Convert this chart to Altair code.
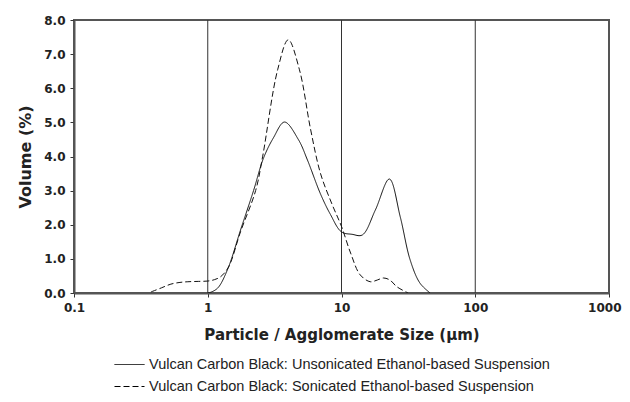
import altair as alt
import pandas as pd

# Unsonicated (solid)
uns_x = [1.0, 1.05, 1.19, 1.41, 1.76, 2.2, 2.61, 3.1, 3.75, 4.77, 5.56, 6.97, 8.27, 10.0, 12.0, 14.3, 17.9, 22.8, 27.5, 32.6, 38.6, 46.0]
uns_y = [0.0, 0.02, 0.15, 0.7, 1.85, 3.0, 3.95, 4.55, 5.01, 4.49, 3.9, 2.9, 2.3, 1.79, 1.72, 1.70, 2.43, 3.34, 2.23, 0.97, 0.29, 0.0]

# Sonicated (dashed)
son_x = [0.376, 0.45, 0.53, 0.62, 0.71, 0.85, 1.0, 1.12, 1.25, 1.43, 1.76, 2.28, 2.57, 3.33, 4.0, 4.85, 5.87, 6.97, 8.5, 10.0, 11.7, 13.8, 16.4, 18.5, 20.6, 23.0, 26.0, 31.5]
son_y = [0.03, 0.15, 0.26, 0.31, 0.33, 0.34, 0.35, 0.39, 0.48, 0.76, 1.8, 3.0, 3.99, 6.54, 7.42, 6.54, 4.8, 3.5, 2.6, 1.95, 1.17, 0.53, 0.33, 0.38, 0.44, 0.38, 0.18, 0.0]

S1 = "Vulcan Carbon Black: Unsonicated Ethanol-based Suspension"
S2 = "Vulcan Carbon Black: Sonicated Ethanol-based Suspension"

grid_x = [1, 10, 100]
x_ticks = [0.1, 1, 10, 100, 1000]
y_ticks = [0, 1, 2, 3, 4, 5, 6, 7, 8]

df = pd.concat([
    pd.DataFrame({"size": uns_x, "vol": uns_y, "series": S1}),
    pd.DataFrame({"size": son_x, "vol": son_y, "series": S2}),
])

BOLD = "DejaVu Sans"
REG = "Liberation Sans"

xscale = alt.Scale(type="log", domain=[0.1, 1000])
yscale = alt.Scale(domain=[0, 8])

grid = alt.Chart(pd.DataFrame({"g": grid_x})).mark_rule(color="#333", strokeWidth=1).encode(
    x=alt.X("g:Q", scale=xscale)
)

lines = alt.Chart(df).mark_line(color="#111", strokeWidth=1, interpolate="catmull-rom", clip=True).encode(
    x=alt.X("size:Q", scale=xscale,
            axis=alt.Axis(values=x_ticks, format="~g", title="Particle / Agglomerate Size (µm)",
                          labelFont=BOLD, titleFont=BOLD,
                          labelFontWeight="bold", labelFontSize=12, titleFontSize=15,
                          titleFontWeight="bold", labelPadding=5, titlePadding=14,
                          labelAlign=alt.expr("datum.value >= 1000 ? 'right' : 'center'"),
                          labelOffset=alt.expr("datum.value >= 1000 ? 12 : 0"),
                          tickSize=4, grid=False, labelFlush=False)),
    y=alt.Y("vol:Q", scale=yscale,
            axis=alt.Axis(values=y_ticks, format=".1f", title="Volume (%)",
                          labelFont=BOLD, titleFont=BOLD,
                          labelFontWeight="bold", labelFontSize=12, titleFontSize=16,
                          titleFontWeight="bold", tickSize=4, labelPadding=5,
                          grid=False, titlePadding=10)),
    strokeDash=alt.StrokeDash("series:N",
                              scale=alt.Scale(domain=[S1, S2], range=[[1, 0], [6, 3]]),
                              legend=alt.Legend(title=None, orient="none", legendX=40, legendY=337,
                                                direction="vertical", symbolType="stroke",
                                                symbolSize=900, symbolStrokeWidth=1,
                                                symbolStrokeColor="black",
                                                labelFontSize=14.5, labelFont=REG, labelLimit=0,
                                                labelColor="#222", clipHeight=15,
                                                rowPadding=6, labelOffset=4)),
    detail="series:N",
)

chart = alt.layer(grid, lines).properties(
    width=535, height=273,
    autosize=alt.AutoSizeParams(type="none"),
    padding={"left": 66, "top": 12, "right": 13, "bottom": 101},
).configure_view(
    stroke="#555", strokeWidth=2
).configure_axis(
    domainColor="#555", domainWidth=2, tickColor="#333", labelColor="#222", titleColor="#222"
)

chart.save("out.html", embed_options={"renderer": "svg", "actions": False})
